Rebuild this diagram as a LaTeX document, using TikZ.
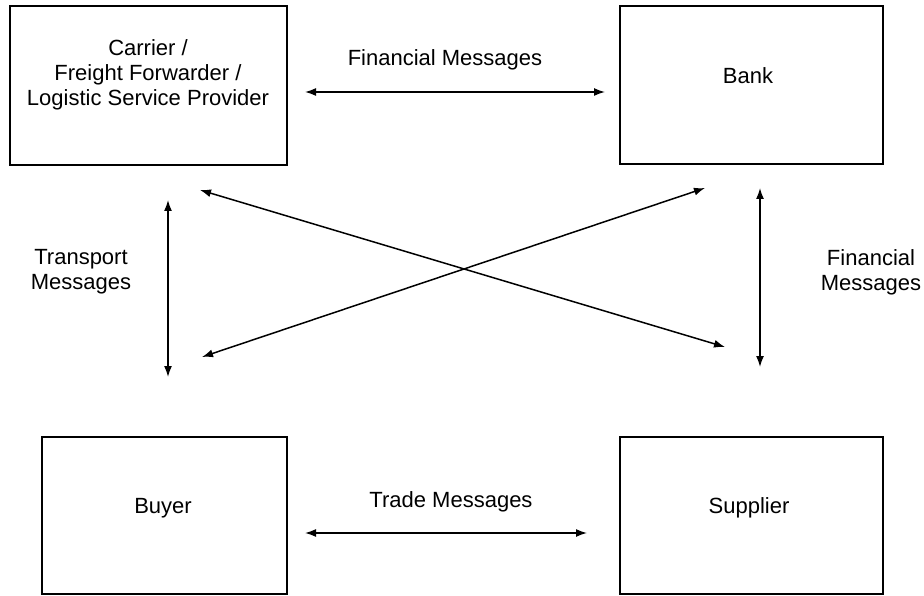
\documentclass[tikz,border=0pt]{standalone}
\usepackage{fontspec}
\setmainfont{Liberation Sans}
\usetikzlibrary{arrows.meta}
\begin{document}
\begin{tikzpicture}[x=1pt,y=1pt]
 \tikzstyle{steps} = [draw, line width=1.6pt, inner sep=0pt];
 \tikzstyle{flow} = [{Latex[length=11pt,width=8pt]}-{Latex[length=11pt,width=8pt]}, line width=1.5pt];
 \tikzstyle{txt} = [font=\fontsize{22}{25}\selectfont, align=center, inner sep=0pt];
 \useasboundingbox (0,0) rectangle (924,-596);
\node [steps, minimum width=277pt, minimum height=159pt] (v1) at (148.5,-85.5) {};
\node [txt] (t1) at (148,-75) {Carrier /\\Freight Forwarder /\\Logistic Service Provider};
\node [steps, minimum width=263pt, minimum height=158pt] (v2) at (751.5,-85) {};
\node [txt] (t2) at (748,-76) {Bank};
\node [steps, minimum width=245pt, minimum height=157pt] (v3) at (164.5,-515.5) {};
\node [txt] (t3) at (163,-508) {Buyer};
\node [steps, minimum width=263pt, minimum height=157pt] (v4) at (751.5,-515.5) {};
\node [txt] (t4) at (749,-508) {Supplier};

\coordinate (a1) at (305,-92);
\coordinate (a2) at (605,-92);
\draw [flow] (a1) -- (a2);
\node [txt] (m1) at (445,-60) {Financial Messages};

\coordinate (b1) at (305,-533);
\coordinate (b2) at (587,-533);
\draw [flow] (b1) -- (b2);
\node [txt] (m2) at (451,-502) {Trade Messages};

\coordinate (c1) at (168,-200);
\coordinate (c2) at (168,-377);
\draw [flow] (c1) -- (c2);
\node [txt] (m3) at (81,-272) {Transport\\Messages};

\coordinate (d1) at (760,-188);
\coordinate (d2) at (760,-367);
\draw [flow] (d1) -- (d2);
\node [txt] (m4) at (871,-272) {Financial\\Messages};

\coordinate (e1) at (200,-190);
\coordinate (e2) at (725,-347);
\draw [flow] (e1) -- (e2);
\coordinate (f1) at (202,-357);
\coordinate (f2) at (705,-188);
\draw [flow] (f1) -- (f2);

\end{tikzpicture}
\end{document}
